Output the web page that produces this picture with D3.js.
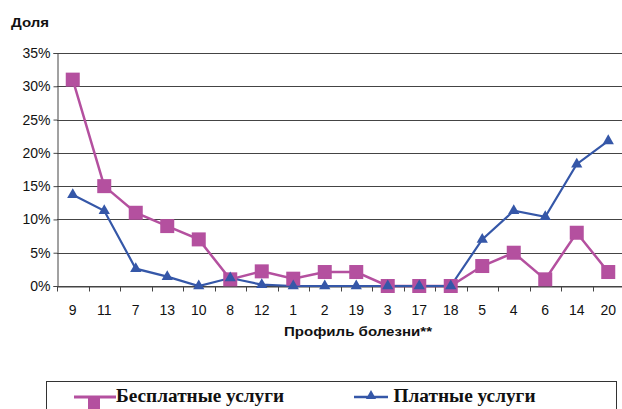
<!DOCTYPE html>
<html><head><meta charset="utf-8">
<script src="https://cdn.jsdelivr.net/npm/d3@7"></script>
<style>body{margin:0;background:#fff}svg{display:block}</style>
</head><body>
<svg id="c" width="622" height="409"></svg>
<script>
const categories = ["9","11","7","13","10","8","12","1","2","19","3","17","18","5","4","6","14","20"];
const freeValues = [31, 15, 11, 9, 7, 1, 2.2, 1.1, 2.1, 2.1, 0, 0, 0, 3, 5, 1, 8, 2.1];
const paidValues = [13.7, 11.3, 2.6, 1.4, 0, 1.2, 0.2, 0, 0, 0, 0, 0, 0, 7, 11.3, 10.4, 18.3, 21.8];
const yTicks = [0, 5, 10, 15, 20, 25, 30, 35];
const seriesNames = ["Бесплатные услуги", "Платные услуги"];
const colors = ["#b4509f", "#3557a8"];

const svg = d3.select("#c");
const x = d3.scaleBand().domain(categories).range([57, 624]);
const y = d3.scaleLinear().domain([0, 35]).range([286, 53]);
const sans = "Arial, 'Liberation Sans', sans-serif";

// gridlines
svg.append("g").selectAll("line").data(yTicks).join("line")
  .attr("x1", 57).attr("x2", 624)
  .attr("y1", d => Math.round(y(d)) + 0.5).attr("y2", d => Math.round(y(d)) + 0.5)
  .attr("stroke", "#444").attr("stroke-width", 1);

// y axis
const ya = svg.append("g").attr("transform", "translate(57.5,0)")
  .call(d3.axisLeft(y).tickValues(yTicks).tickFormat(d => d + "%").tickSize(4).tickPadding(3));
ya.select(".domain").attr("stroke", "#444");
ya.selectAll(".tick line").attr("stroke", "#444");
ya.selectAll("text").attr("font-family", sans).attr("font-size", 14).attr("fill", "#111");

// x axis
const xa = svg.append("g").attr("transform", "translate(0,286.5)")
  .call(d3.axisBottom(x).tickSize(0).tickPadding(18.5));
xa.select(".domain").attr("stroke", "#444");
xa.selectAll("text").attr("font-family", sans).attr("font-size", 14).attr("fill", "#111");
// boundary ticks
xa.append("g").selectAll("line").data(categories).join("line")
  .attr("x1", d => Math.round(x(d)) + 0.5).attr("x2", d => Math.round(x(d)) + 0.5)
  .attr("y1", 0).attr("y2", 5).attr("stroke", "#444");

// titles
svg.append("text").attr("x", 11).attr("y", 27).text("Доля")
  .attr("font-family", sans).attr("font-size", 13).attr("font-weight", "bold").attr("fill", "#111")
  .attr("textLength", 38).attr("lengthAdjust", "spacingAndGlyphs");
svg.append("text").attr("x", 284).attr("y", 336).text("Профиль болезни**")
  .attr("font-family", sans).attr("font-size", 13).attr("font-weight", "bold").attr("fill", "#111")
  .attr("textLength", 148).attr("lengthAdjust", "spacingAndGlyphs");

const cx = d => x(d) + x.bandwidth() / 2;
const line = d3.line().x(d => cx(d.c)).y(d => y(d.v));
const freeData = categories.map((c, i) => ({c, v: freeValues[i]}));
const paidData = categories.map((c, i) => ({c, v: paidValues[i]}));

// free series
svg.append("path").datum(freeData).attr("d", line).attr("fill", "none").attr("stroke", colors[0]).attr("stroke-width", 2.5);
// paid series
svg.append("path").datum(paidData).attr("d", line).attr("fill", "none").attr("stroke", colors[1]).attr("stroke-width", 2.2);

svg.append("g").selectAll("rect").data(freeData).join("rect")
  .attr("x", d => cx(d.c) - 7).attr("y", d => y(d.v) - 7).attr("width", 14).attr("height", 14)
  .attr("fill", colors[0]);
const tri = d3.symbol().type(d3.symbolTriangle).size(55);
svg.append("g").selectAll("path").data(paidData).join("path")
  .attr("transform", d => `translate(${cx(d.c)},${y(d.v)})`).attr("d", tri).attr("fill", colors[1]);

// legend
svg.append("rect").attr("x", 46.5).attr("y", 381.5).attr("width", 570).attr("height", 40)
  .attr("fill", "none").attr("stroke", "#333").attr("stroke-width", 1);
const lg = svg.append("g");
lg.append("line").attr("x1", 74).attr("x2", 116).attr("y1", 397).attr("y2", 397).attr("stroke", colors[0]).attr("stroke-width", 3);
lg.append("rect").attr("x", 88).attr("y", 396).attr("width", 12).attr("height", 14).attr("fill", colors[0]);
lg.append("text").attr("x", 116).attr("y", 402).text(seriesNames[0])
  .attr("font-family", "'Liberation Serif', 'Times New Roman', serif").attr("font-size", 18).attr("font-weight", "bold").attr("fill", "#111")
  .attr("textLength", 168).attr("lengthAdjust", "spacingAndGlyphs");
lg.append("line").attr("x1", 354).attr("x2", 388).attr("y1", 397).attr("y2", 397).attr("stroke", colors[1]).attr("stroke-width", 2.5);
lg.append("path").attr("transform", "translate(371,396)").attr("d", d3.symbol().type(d3.symbolTriangle).size(45)).attr("fill", colors[1]);
lg.append("text").attr("x", 393.5).attr("y", 402).text(seriesNames[1])
  .attr("font-family", "'Liberation Serif', 'Times New Roman', serif").attr("font-size", 18).attr("font-weight", "bold").attr("fill", "#111")
  .attr("textLength", 142).attr("lengthAdjust", "spacingAndGlyphs");
</script>
</body></html>
